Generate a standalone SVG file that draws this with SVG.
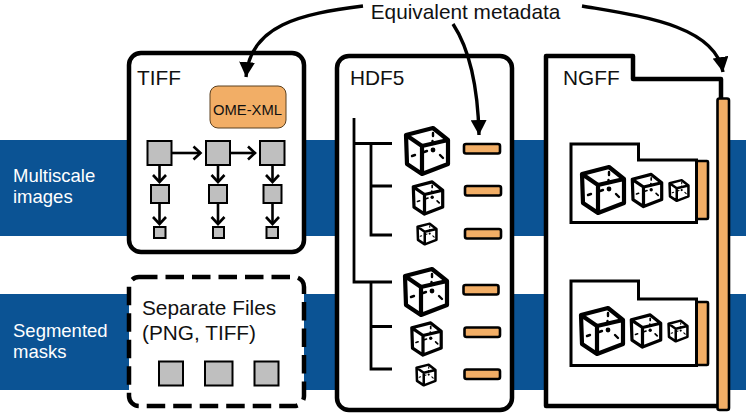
<svg xmlns="http://www.w3.org/2000/svg" width="746" height="413" viewBox="0 0 746 413">
<style>
text{font-family:"Liberation Sans",Arial,sans-serif;fill:#111}
.band{fill:#0b5394}
.lbl{fill:#fff;font-size:18.5px}
.ttl{font-size:20.800px}
.box{fill:#fff;stroke:#000;stroke-width:4.500;stroke-linejoin:round}
.sq{fill:#bfbfbf;stroke:#000;stroke-width:2}
.or{fill:#f2ae66;stroke:#000;stroke-width:2.600;stroke-linejoin:round}
.ln{fill:none;stroke:#000;stroke-width:2.600}
.tree{fill:none;stroke:#000;stroke-width:2.800}
.cv{fill:none;stroke:#000;stroke-width:3.400}
.cube path{fill:#fff;stroke:#000;stroke-linejoin:round}
.cube line{stroke:#000;stroke-linecap:round;stroke-width:2.400}
.cube circle{fill:#000;stroke:none}
</style>
<defs>
<marker id="big" markerUnits="userSpaceOnUse" markerWidth="16" markerHeight="16" refX="15" refY="8" orient="auto"><path d="M0 0L15 8L0 16Z" fill="#000"/></marker>
<marker id="open" markerUnits="userSpaceOnUse" markerWidth="11" markerHeight="16" refX="9" refY="8" orient="auto"><path d="M2 1.500L9 8L2 14.500" fill="none" stroke="#000" stroke-width="2.600"/></marker>
<g id="cube" class="cube">
<path d="M6-23L-21-16L-20 13L-5 23L21 13L21-11ZM-21-16L-5-5L21-11M-5-5L-5 23"/>
<line x1="6" y1="-18" x2="6" y2="-15"/><line x1="5.500" y1="-10" x2="5.500" y2="-7"/><circle cx="6" cy="-1" r="2.400"/><line x1="-3" y1="1" x2="0" y2="0"/><line x1="-15" y1="5" x2="-12" y2="4"/><line x1="13" y1="4" x2="16" y2="7"/>
</g>
</defs>
<g id="bands">
<rect class="band" y="140" width="746" height="96"/>
<rect class="band" y="294" width="746" height="96"/>
</g>
<g id="row-multiscale"><text class="lbl" x="13" y="182">Multiscale</text><text class="lbl" x="13" y="203">images</text></g>
<g id="row-segmented"><text class="lbl" x="13" y="337">Segmented</text><text class="lbl" x="13" y="358">masks</text></g>
<g id="tiff">
<rect class="box" x="129" y="53" width="175" height="199" rx="12"/>
<text class="ttl" x="137" y="85">TIFF</text>
<rect x="210" y="86" width="76" height="42" rx="8" fill="#f2ae66" stroke="#5a4020" stroke-width="1"/>
<text x="247.500" y="115" text-anchor="middle" font-size="14.800">OME-XML</text>
<rect class="sq" x="147.500" y="141" width="24" height="24"/><rect class="sq" x="206" y="141" width="24" height="24"/><rect class="sq" x="260" y="141" width="24.500" height="24"/>
<rect class="sq" x="151" y="185" width="18" height="18"/><rect class="sq" x="209" y="185" width="18" height="18"/><rect class="sq" x="263.500" y="185" width="18" height="18"/>
<rect class="sq" x="154" y="227" width="11.500" height="11"/><rect class="sq" x="213" y="227" width="11" height="11"/><rect class="sq" x="266.500" y="227" width="11.500" height="11"/>
</g>
<g id="separate">
<rect x="129" y="277" width="175" height="129" rx="10" fill="#fff" stroke="#000" stroke-width="4.500" stroke-dasharray="18.500 8"/>
<text class="ttl" x="142" y="315">Separate Files</text><text class="ttl" x="142" y="340">(PNG, TIFF)</text>
<rect class="sq" x="159" y="361.500" width="24" height="24"/><rect class="sq" x="205" y="361.500" width="27.500" height="24"/><rect class="sq" x="254.500" y="361.500" width="24" height="24"/>
</g>
<g id="hdf5">
<rect class="box" x="337" y="56" width="175" height="354" rx="12"/>
<text class="ttl" x="350" y="85">HDF5</text>
<path class="tree" d="M354 118V282H392M354 143.500H392M371 143.500V235H392M371 186H392M371 282V369H392M371 326.500H392"/>
<use href="#cube" transform="translate(427 151)" stroke-width="4.200"/>
<use href="#cube" transform="translate(428 198) scale(.7)" stroke-width="4.600"/>
<use href="#cube" transform="translate(427 234) scale(.45)" stroke-width="5.600"/>
<use href="#cube" transform="translate(426 292)" stroke-width="4.200"/>
<use href="#cube" transform="translate(426.500 339) scale(.7)" stroke-width="4.600"/>
<use href="#cube" transform="translate(426 375) scale(.45)" stroke-width="5.600"/>
<rect class="or" x="464" y="144" width="36" height="9.500" rx="2"/><rect class="or" x="465" y="186" width="36" height="9.500" rx="2"/><rect class="or" x="465" y="229" width="36" height="9.500" rx="2"/>
<rect class="or" x="463.500" y="285" width="35" height="9.500" rx="2"/><rect class="or" x="464.500" y="327.500" width="35.500" height="9.500" rx="2"/><rect class="or" x="464.500" y="369.500" width="35.500" height="9.500" rx="2"/>
</g>
<g id="ngff">
<path class="box" d="M546 56H633V79H721V406H546Z" stroke-linejoin="miter"/>
<text class="ttl" x="563" y="85">NGFF</text>
<rect class="or" x="717.500" y="98.500" width="11.500" height="311.500" rx="2"/>
</g>
<g id="ngff-image-1">
<rect class="or" x="690" y="161" width="18" height="58" rx="1"/>
<path d="M571 144H638.500V160H696.500V222.500H571Z" fill="#fff" stroke="#000" stroke-width="3"/>
<use href="#cube" transform="translate(603 190)" stroke-width="4.200"/>
<use href="#cube" transform="translate(647 190.500) scale(.7)" stroke-width="4.600"/>
<use href="#cube" transform="translate(679 190.500) scale(.45)" stroke-width="5.600"/>
</g>
<g id="ngff-image-2">
<rect class="or" x="690" y="302" width="18" height="63" rx="1"/>
<path d="M571 281H638.500V299H696.500V365.500H571Z" fill="#fff" stroke="#000" stroke-width="3"/>
<use href="#cube" transform="translate(602 331)" stroke-width="4.200"/>
<use href="#cube" transform="translate(646 331) scale(.7)" stroke-width="4.600"/>
<use href="#cube" transform="translate(678 331) scale(.45)" stroke-width="5.600"/>
</g>
<text id="meta" x="465.500" y="19" text-anchor="middle" font-size="20.800">Equivalent metadata</text>
<g id="connectors">
<path class="cv" d="M363 6C300 14 250 25 246 77" marker-end="url(#big)"/>
<path class="cv" d="M453 24C470 50 478 90 479 135" marker-end="url(#big)"/>
<path class="cv" d="M582 6C640 16 715 25 723 72" marker-end="url(#big)"/>
<path class="ln" d="M172 153H200.500" marker-end="url(#open)"/><path class="ln" d="M230 153H255" marker-end="url(#open)"/>
<path class="ln" d="M159.500 165V182" marker-end="url(#open)"/><path class="ln" d="M218 165V182" marker-end="url(#open)"/><path class="ln" d="M272.500 165V182" marker-end="url(#open)"/>
<path class="ln" d="M159.500 203V224" marker-end="url(#open)"/><path class="ln" d="M218 203V224" marker-end="url(#open)"/><path class="ln" d="M272.500 203V224" marker-end="url(#open)"/>
</g>
</svg>
